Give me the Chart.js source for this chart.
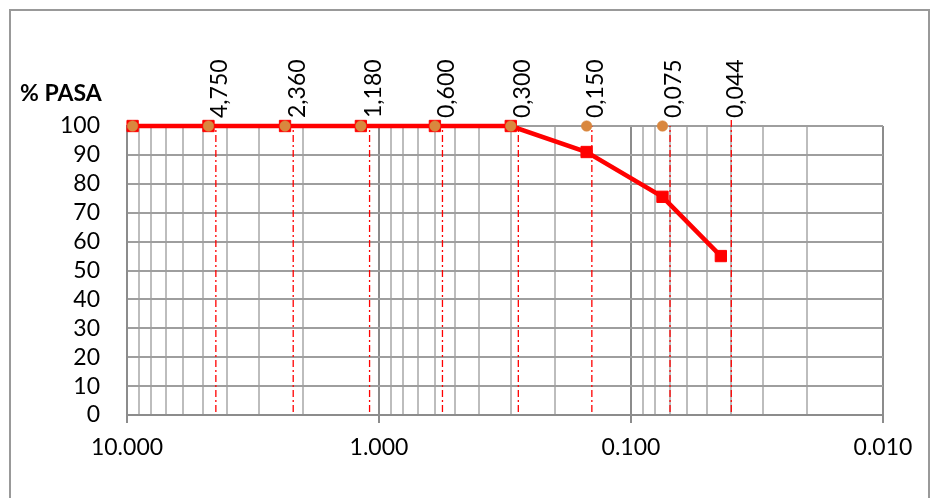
<!DOCTYPE html>
<html>
<head>
<meta charset="utf-8">
<title>Curva granulometrica</title>
<script src="https://cdn.jsdelivr.net/npm/chart.js@4"></script>
<style>
    body { margin: 0; background: #fff; }
    canvas { display: block; }
</style>
</head>
<body>
<canvas id="granulo" width="935" height="498"></canvas>
<script>
//=========================================================================
// Data
// * sieve openings (mm) + % passing (red line)
// * reference points at 100% (orange)
// * dash-dot sieve marker lines + their labels
//=========================================================================
const sieveSizes = [9.5, 4.75, 2.36, 1.18, 0.6, 0.3, 0.15, 0.075, 0.044];
const pctPassing = [100, 100, 100, 100, 100, 100, 91, 75.5, 55];

const refSizes = [9.5, 4.75, 2.36, 1.18, 0.6, 0.3, 0.15, 0.075];
const refPassing = [100, 100, 100, 100, 100, 100, 100, 100];

// marker lines sit a bit right of the true sieve size in the picture
const markerX = [4.44, 2.19, 1.09, 0.56, 0.28, 0.143, 0.070, 0.040];
const markerTop = [100, 100, 100, 100, 100, 100, 100, 103];
const markerLabels = ["4,750", "2,360", "1,180", "0,600", "0,300", "0,150", "0,075", "0,044"];

const xMajorTicks = [10, 1, 0.1, 0.01];
const xTickLabels = ["10.000", "1.000", "0.100", "0.010"];
const xMinorTicks = [9, 8, 7, 6, 5, 4, 3, 2,
                     0.9, 0.8, 0.7, 0.6, 0.5, 0.4, 0.3, 0.2,
                     0.09, 0.08, 0.07, 0.06, 0.05, 0.04, 0.03, 0.02];
const yTitle = "% PASA";

const FONT = "Lato";

function isMajor(v) {
    return xMajorTicks.some(m => Math.abs(Math.log10(v) - Math.log10(m)) < 1e-6);
}

window.onload = function() {

    const ctx = document.getElementById('granulo');

    // vertical dash-dot lines, one dataset each
    var markerSets = markerX.map(function(x, i) {
        return {
            label: markerLabels[i],
            data: [{x: x, y: 1}, {x: x, y: markerTop[i]}],
            borderColor: '#ff0000',
            borderWidth: 1.3,
            borderDash: [7, 3, 2, 3],
            pointRadius: 0,
            clip: false,
            order: 3
        };
    });

    var datasets = [{
        label: 'ref',
        data: refSizes.map((x, i) => ({x: x, y: refPassing[i]})),
        showLine: false,
        pointStyle: 'circle',
        pointRadius: 5.3,
        pointBackgroundColor: '#d9873e',
        pointBorderColor: '#d9873e',
        pointBorderWidth: 0.5,
        clip: false,
        order: 1
    }, {
        label: '% pasa',
        data: sieveSizes.map((x, i) => ({x: x, y: pctPassing[i]})),
        borderColor: '#ff0000',
        borderWidth: 4.5,
        tension: 0,
        pointStyle: 'rect',
        pointRadius: 8,
        pointBackgroundColor: '#ff0000',
        pointBorderColor: '#ff0000',
        pointBorderWidth: 1,
        clip: false,
        order: 2
    }].concat(markerSets);

    // labels above the marker lines, axis title, outer frame
    var extras = {
        id: 'extras',
        afterDatasetsDraw: function(chart) {
            var c = chart.ctx;
            var xs = chart.scales.x;
            var ys = chart.scales.y;
            c.save();
            c.fillStyle = '#000';
            c.font = '23px ' + FONT;
            c.textAlign = 'left';
            c.textBaseline = 'middle';
            markerX.forEach(function(x, i) {
                c.save();
                c.translate(xs.getPixelForValue(x) + 4, ys.getPixelForValue(100) - 8);
                c.rotate(-Math.PI / 2);
                c.fillText(markerLabels[i], 0, 0);
                c.restore();
            });
            c.font = 'bold 23px ' + FONT;
            c.fillText(yTitle, 20, 94);
            c.strokeStyle = '#999';
            c.lineWidth = 2;
            c.strokeRect(10, 10, 919, 496);
            c.restore();
        }
    };

    var granulo = new Chart(ctx, {
        type: 'line',
        data: { datasets: datasets },
        options: {
            responsive: false,
            animation: false,
            layout: { padding: { top: 126, right: 52, left: 0, bottom: 0 } },
            plugins: {
                legend: { display: false },
                tooltip: { enabled: false }
            },
            scales: {
                x: {
                    type: 'logarithmic',
                    reverse: true,
                    min: 0.01,
                    max: 10,
                    afterBuildTicks: function(s) {
                        s.ticks = xMajorTicks.concat(xMinorTicks).map(v => ({value: v, major: isMajor(v)}));
                    },
                    afterFit: function(s) { s.height = 83; },
                    ticks: {
                        autoSkip: false,
                        maxRotation: 0,
                        padding: 11,
                        color: '#000',
                        font: { family: FONT, size: 23 },
                        callback: function(value) {
                            for (var i = 0; i < xMajorTicks.length; i++) {
                                if (Math.abs(Math.log10(value) - Math.log10(xMajorTicks[i])) < 1e-6) return xTickLabels[i];
                            }
                            return '';
                        }
                    },
                    grid: {
                        lineWidth: 2,
                        color: c => (c.tick && c.tick.major) ? '#8c8c8c' : '#bdbdbd',
                        tickLength: 8,
                        tickColor: c => (c.tick && c.tick.major) ? '#8c8c8c' : 'rgba(0,0,0,0)'
                    },
                    border: { color: '#8c8c8c', width: 2 }
                },
                y: {
                    min: 0,
                    max: 100,
                    afterFit: function(s) { s.width = 127; },
                    ticks: {
                        stepSize: 10,
                        autoSkip: false,
                        padding: 27,
                        color: '#000',
                        font: { family: FONT, size: 23 }
                    },
                    grid: {
                        lineWidth: 2,
                        color: '#9e9e9e',
                        drawTicks: false
                    },
                    border: { color: '#8c8c8c', width: 2 }
                }
            }
        },
        plugins: [extras]
    });
}
</script>
</body>
</html>
